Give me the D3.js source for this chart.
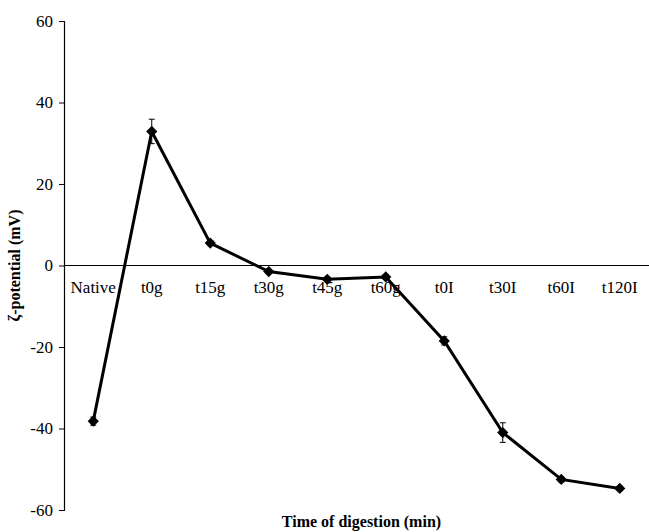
<!DOCTYPE html>
<html>
<head>
<meta charset="utf-8">
<script src="https://cdn.jsdelivr.net/npm/d3@7"></script>
<style>
  body { margin: 0; background: #fff; }
  text { font-family: "Liberation Serif", "Times New Roman", serif; fill: #000; }
</style>
</head>
<body>
<div id="chart"></div>
<script>
// data
const categories = ["Native", "t0g", "t15g", "t30g", "t45g", "t60g", "t0I", "t30I", "t60I", "t120I"];
const zeta = [-38.2, 32.9, 5.5, -1.5, -3.4, -2.8, -18.5, -41.0, -52.5, -54.7];
const zetaErr = [1.0, 3.0, 0.6, 0.5, 0.5, 0.5, 1.0, 2.4, 0.6, 0.5];
const yTicks = [-60, -40, -20, 0, 20, 40, 60];

const W = 649, H = 532;
const margin = {top: 21, right: 0, bottom: 22, left: 64};
const width = W - margin.left - margin.right;
const height = H - margin.top - margin.bottom;

const svg = d3.select("#chart").append("svg")
    .attr("width", W)
    .attr("height", H)
    .append("g")
    .attr("transform", "translate(" + margin.left + "," + margin.top + ")");

const x = d3.scalePoint()
    .domain(categories)
    .range([0, width])
    .padding(0.5);

const y = d3.scaleLinear()
    .domain([-60, 60])
    .range([height, 0]);

// y axis (plain hyphen for negatives, like the original)
const yAxis = d3.axisLeft(y)
    .tickValues(yTicks)
    .tickFormat(d => String(d))
    .tickSize(5)
    .tickPadding(6);

const yg = svg.append("g").attr("class", "y-axis").call(yAxis);
yg.select(".domain").attr("stroke", "#000").attr("stroke-width", 1.2).attr("d", "M-5,0.5H0.5V" + (height + 0.5) + "H-5");
yg.selectAll("text").style("font-size", "17px");

// zero line with category labels beneath
svg.append("line")
    .attr("x1", 0).attr("x2", width)
    .attr("y1", y(0)).attr("y2", y(0))
    .attr("stroke", "#000").attr("stroke-width", 1.2);

svg.selectAll(".cat")
    .data(categories)
    .enter().append("text")
    .attr("class", "cat")
    .attr("x", d => x(d))
    .attr("y", y(0) + 27)
    .attr("text-anchor", "middle")
    .style("font-size", "17px")
    .text(d => d);

const pts = categories.map((c, i) => ({c: c, v: zeta[i], e: zetaErr[i]}));

// error bars
const eb = svg.selectAll(".err").data(pts).enter().append("g").attr("class", "err");
eb.append("line")
    .attr("x1", d => x(d.c)).attr("x2", d => x(d.c))
    .attr("y1", d => y(d.v + d.e)).attr("y2", d => y(d.v - d.e))
    .attr("stroke", "#000").attr("stroke-width", 1);
eb.append("line")
    .attr("x1", d => x(d.c) - 3).attr("x2", d => x(d.c) + 3)
    .attr("y1", d => y(d.v + d.e)).attr("y2", d => y(d.v + d.e))
    .attr("stroke", "#000").attr("stroke-width", 1);
eb.append("line")
    .attr("x1", d => x(d.c) - 3).attr("x2", d => x(d.c) + 3)
    .attr("y1", d => y(d.v - d.e)).attr("y2", d => y(d.v - d.e))
    .attr("stroke", "#000").attr("stroke-width", 1);

// line
const line = d3.line()
    .x(d => x(d.c))
    .y(d => y(d.v));

svg.append("path")
    .datum(pts)
    .attr("fill", "none")
    .attr("stroke", "#000")
    .attr("stroke-width", 3)
    .attr("stroke-linejoin", "miter")
    .attr("d", line);

// diamond markers
svg.selectAll(".pt")
    .data(pts)
    .enter().append("path")
    .attr("class", "pt")
    .attr("d", d3.symbol().type(d3.symbolDiamond2).size(80))
    .attr("transform", d => "translate(" + x(d.c) + "," + y(d.v) + ")")
    .attr("fill", "#000");

// axis titles
svg.append("text")
    .attr("x", width / 2 + 5)
    .attr("y", height + 17)
    .attr("text-anchor", "middle")
    .style("font-size", "16px")
    .style("font-weight", "bold")
    .text("Time of digestion (min)");

svg.append("text")
    .attr("transform", "translate(" + (-44) + "," + (y(0)) + ") rotate(-90)")
    .attr("text-anchor", "middle")
    .style("font-size", "16px")
    .style("font-weight", "bold")
    .text("ζ-potential (mV)");
</script>
</body>
</html>
